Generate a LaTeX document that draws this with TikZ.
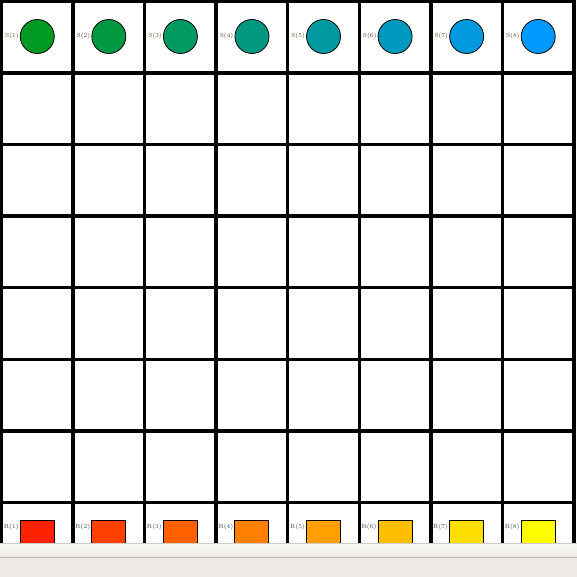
\documentclass[tikz,border=0pt]{standalone}
\usepackage{tikz}
\usepackage{xcolor}
\usetikzlibrary{positioning}
\definecolor{tagbrown}{RGB}{95,70,40}
\definecolor{tagblue}{RGB}{60,70,100}
\definecolor{barhigh}{RGB}{249,248,246}
\definecolor{barlow}{RGB}{238,236,232}
\definecolor{barbase}{RGB}{238,235,231}
\definecolor{barline}{RGB}{186,182,177}
\tikzset{
  gridline/.style={line width=3.4pt},
  stone/.style={circle,draw,line width=0.8pt,minimum size=34pt,inner sep=0pt},
  brick/.style={rectangle,draw,line width=1pt,minimum size=34pt,inner sep=0pt},
  tag/.style={inner sep=0pt,font=\fontsize{6}{7}\selectfont}
}
\begin{document}
\begin{tikzpicture}[x=1pt,y=-1pt]
\useasboundingbox (0,0) rectangle (577,577);
\fill[white] (0,0) rectangle (577,577);
\foreach \k in {0,...,8}{
  \draw[gridline] ({1.5+71.56*\k},0) -- ({1.5+71.56*\k},577);
  \draw[gridline] (0,{1.5+71.56*\k}) -- (575.7,{1.5+71.56*\k});
}
\foreach \i in {1,...,8}{
  \pgfmathsetmacro\cx{1.5+71.56*(\i-0.5)}
  \pgfmathtruncatemacro\blu{34+221*(\i-1)/7}
  \node[stone,fill={rgb,255:red,0;green,153;blue,\blu}] (s\i) at (\cx,36.5) {};
  \node[tag,text=tagbrown,left=1pt of s\i] (ls\i) {S(\i)};
  \node[brick,fill={rgb,255:red,255;green,\blu;blue,0}] (r\i) at (\cx,537) {};
  \node[tag,text=tagblue,left=1pt of r\i.north west,anchor=north east,yshift=-4pt] (lr\i) {R(\i)};
}
\shade[top color=barhigh,bottom color=barlow] (0,543) rectangle (577,557);
\fill[barbase] (0,557) rectangle (577,577);
\draw[barline,line width=1pt] (0,557) -- (577,557);
\draw[barline!70,line width=0.8pt] (0,543.4) -- (577,543.4);
\end{tikzpicture}
\end{document}
